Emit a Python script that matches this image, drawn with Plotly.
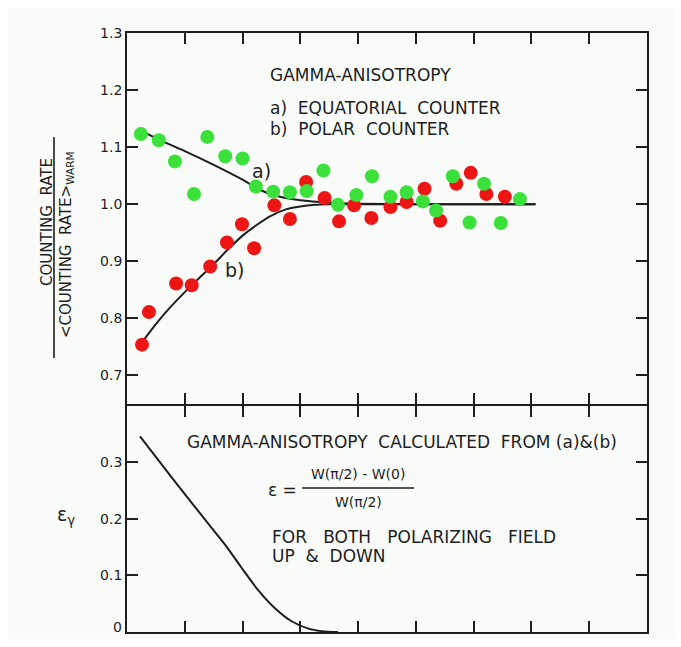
import plotly.graph_objects as go

# ---------------- data ----------------
# a) equatorial counter (green points)
eq_x = [0.24, 0.55, 0.83, 1.16, 1.39, 1.70, 2.00, 2.23, 2.53, 2.82, 3.11, 3.40,
        3.65, 3.97, 4.24, 4.56, 4.84, 5.12, 5.35, 5.64, 5.93, 6.18, 6.47, 6.80]
eq_y = [1.123, 1.112, 1.075, 1.018, 1.118, 1.084, 1.080, 1.031, 1.022, 1.021, 1.023, 1.059,
        0.999, 1.016, 1.049, 1.013, 1.021, 1.005, 0.989, 1.049, 0.968, 1.036, 0.967, 1.009]

# b) polar counter (red points)
po_x = [0.26, 0.38, 0.85, 1.12, 1.44, 1.73, 1.99, 2.20, 2.55, 2.82, 3.10, 3.42,
        3.67, 3.93, 4.23, 4.56, 4.84, 5.15, 5.42, 5.70, 5.95, 6.22, 6.54]
po_y = [0.754, 0.811, 0.861, 0.858, 0.891, 0.933, 0.965, 0.923, 0.998, 0.974, 1.039, 1.011,
        0.970, 0.998, 0.976, 0.995, 1.004, 1.027, 0.971, 1.036, 1.055, 1.018, 1.013]

# fitted curves
fit_a_x = [0.30, 0.60, 1.00, 1.50, 2.00, 2.25, 2.50, 2.75, 3.00, 3.50, 4.00, 5.00, 6.00, 7.07]
fit_a_y = [1.126, 1.111, 1.093, 1.069, 1.043, 1.028, 1.017, 1.011, 1.007, 1.003, 1.001, 1.000, 1.000, 1.000]

fit_b_x = [0.25, 0.50, 0.70, 1.00, 1.20, 1.50, 1.75, 2.00, 2.25, 2.50, 2.75, 3.00, 3.25, 3.50, 4.00, 5.00, 6.00, 7.07]
fit_b_y = [0.757, 0.790, 0.814, 0.846, 0.866, 0.895, 0.921, 0.945, 0.964, 0.980, 0.991, 0.996, 0.999, 1.000, 1.000, 1.000, 1.000, 1.000]

# gamma anisotropy epsilon
eps_x = [0.225, 0.83, 1.41, 1.70, 1.98, 2.27, 2.56, 2.85, 3.14, 3.42, 3.65]
eps_y = [0.346, 0.266, 0.191, 0.154, 0.114, 0.074, 0.042, 0.019, 0.006, 0.001, 0.000]

x_ticks = [1, 2, 3, 4, 5, 6, 7, 8]
upper_ticks = [0.7, 0.8, 0.9, 1.0, 1.1, 1.2, 1.3]
upper_labels = ["0.7", "0.8", "0.9", "1.0", "1.1", "1.2", "1.3"]
lower_ticks = [0, 0.1, 0.2, 0.3]
lower_labels = ["0", "0.1", "0.2", "0.3"]

# ---------------- figure ----------------
OFF = 8  # page body margin
W, H = 665, 631
L, R, T, B = 119, 26, 25, 7
PW, PH = W - L - R, H - T - B
LW = 1.8
split = (632 - 404) / PH


def px(X):
    return (X - OFF - L) / PW


def py(Y):
    return (OFF + H - B - Y) / PH


INK = "#1e1e1e"
FONT = "DejaVu Sans"
GREEN = "#3be03b"
RED = "#ee1515"

fig = go.Figure()

fig.add_trace(go.Scatter(x=fit_a_x, y=fit_a_y, mode="lines", line=dict(color=INK, width=2, shape="spline", smoothing=0.6),
                         xaxis="x", yaxis="y", showlegend=False, hoverinfo="skip"))
fig.add_trace(go.Scatter(x=fit_b_x, y=fit_b_y, mode="lines", line=dict(color=INK, width=2, shape="spline", smoothing=0.6),
                         xaxis="x", yaxis="y", showlegend=False, hoverinfo="skip"))
fig.add_trace(go.Scatter(x=po_x, y=po_y, mode="markers", marker=dict(color=RED, size=14, line=dict(width=0)),
                         xaxis="x", yaxis="y", showlegend=False, name="b) polar"))
fig.add_trace(go.Scatter(x=eq_x, y=eq_y, mode="markers", marker=dict(color=GREEN, size=14, line=dict(width=0)),
                         xaxis="x", yaxis="y", showlegend=False, name="a) equatorial"))
fig.add_trace(go.Scatter(x=eps_x, y=eps_y, mode="lines", line=dict(color=INK, width=2, shape="spline", smoothing=0.8),
                         xaxis="x2", yaxis="y2", showlegend=False, hoverinfo="skip"))

axis_common = dict(showline=True, linecolor=INK, linewidth=LW, mirror="ticks", ticks="inside",
                   tickcolor=INK, tickwidth=1.6, showgrid=False, zeroline=False, automargin=False)
tick_font = dict(family=FONT, size=14, color=INK)

# the bottom "0" label sits on the page edge, so it is drawn as an annotation slightly raised
lower_axis_text = [("" if v == 0 else t) for v, t in zip(lower_ticks, lower_labels)]

fig.update_layout(
    width=W, height=H,
    margin=dict(l=L, r=R, t=T, b=B, autoexpand=False),
    paper_bgcolor="#f9fbf9", plot_bgcolor="#f9fbf9",
    xaxis=dict(domain=[0, 1], anchor="y", range=[0, 9], tickvals=x_ticks, showticklabels=False,
               ticklen=11, **axis_common),
    yaxis=dict(domain=[split, 1], anchor="x", range=[0.65, 1.3], tickvals=upper_ticks, ticktext=upper_labels,
               ticklen=11, tickfont=tick_font, **axis_common),
    xaxis2=dict(domain=[0, 1], anchor="y2", range=[0, 9], matches="x", tickvals=x_ticks, showticklabels=False,
                ticklen=11, **axis_common),
    yaxis2=dict(domain=[0, split - LW / PH], anchor="x2", range=[0, 0.4], tickvals=lower_ticks,
                ticktext=lower_axis_text, ticklen=11, tickfont=tick_font, **axis_common),
)

ann = []


def txt(text, X, Y, size=13, xanchor="left", angle=0, yanchor="middle"):
    ann.append(dict(text=text, x=px(X), y=py(Y), xref="paper", yref="paper", showarrow=False,
                    xanchor=xanchor, yanchor=yanchor, textangle=angle,
                    font=dict(family=FONT, size=size, color=INK)))


S = "\u00a0"
txt("GAMMA-ANISOTROPY", 268, 75, 17)
txt("a)" + S * 2 + "EQUATORIAL" + S * 2 + "COUNTER", 268, 108, 17)
txt("b)" + S * 2 + "POLAR" + S * 2 + "COUNTER", 268, 129, 17)
txt("a)", 261, 171, 19, xanchor="center")
txt("b)", 234, 270, 19, xanchor="center")

txt("GAMMA-ANISOTROPY" + S * 2 + "CALCULATED" + S * 2 + "FROM" + S + "(a)&(b)", 185, 442, 17)
txt("ε" + S + "=", 266, 490, 17)
txt("W(π/2) - W(0)", 358, 474, 14, xanchor="center")
txt("W(π/2)", 358, 502, 14, xanchor="center")
txt("FOR" + S * 3 + "BOTH" + S * 3 + "POLARIZING" + S * 3 + "FIELD", 270, 537, 17)
txt("UP" + S * 2 + "&" + S * 2 + "DOWN", 270, 556, 17)

txt("COUNTING" + S * 2 + "RATE", 47, 222, 15, xanchor="center", angle=-90)
txt("<COUNTING" + S * 2 + "RATE><sub>WARM</sub>", 66, 245, 15, xanchor="center", angle=-90)
txt("ε<sub>γ</sub>", 66, 515, 19, xanchor="center")
txt(lower_labels[0], 124, 627, 14, xanchor="right")

fig.update_layout(annotations=ann)

shapes = [
    dict(type="line", xref="paper", yref="paper", x0=px(54), x1=px(54), y0=py(137), y1=py(358),
         line=dict(color=INK, width=1.6)),
    dict(type="line", xref="paper", yref="paper", x0=px(302), x1=px(414), y0=py(488), y1=py(488),
         line=dict(color=INK, width=1.4)),
]
fig.update_layout(shapes=shapes)

fig.write_html("out.html")
